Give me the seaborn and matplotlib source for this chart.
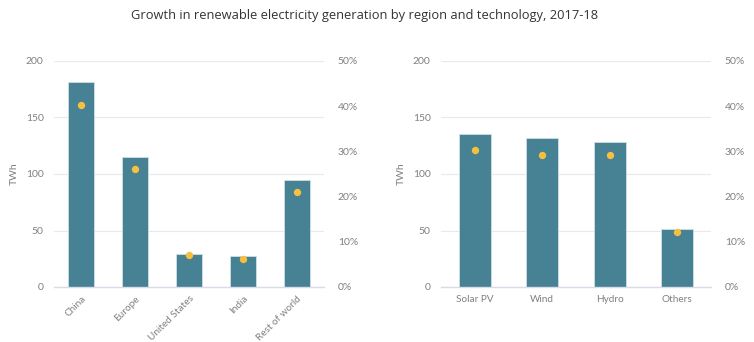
import matplotlib
matplotlib.use("Agg")
import matplotlib.pyplot as plt
import seaborn as sns
import pandas as pd
from matplotlib.ticker import FuncFormatter

sns.set_theme(style="white")
plt.rcParams['font.family'] = ['Lato', 'DejaVu Sans']

regions = ["China", "Europe", "United States", "India", "Rest of world"]
region_twh = [181, 114.8, 29.5, 27.4, 94.4]
region_pct = [40.2, 26.1, 7.1, 6.1, 21.1]

techs = ["Solar PV", "Wind", "Hydro", "Others"]
tech_twh = [135.7, 131.9, 128.6, 51.6]
tech_pct = [30.2, 29.1, 29.1, 12.1]

BAR = "#468294"
DOT = "#f6bf3f"
TXT = "#808080"
GRID = "#e8e8ee"

fig = plt.figure(figsize=(7.54, 3.42), dpi=100)
fig.text(0.484, 0.955, "Growth in renewable electricity generation by region and technology, 2017-18",
         ha="center", va="center", fontsize=9.3, color="#333333", family=['Open Sans', 'DejaVu Sans'])

def panel(rect, cats, twh, pct, rotate, width):
    ax = fig.add_axes(rect)
    df = pd.DataFrame({"cat": cats, "twh": twh, "pct": pct})
    sns.barplot(data=df, x="cat", y="twh", color=BAR, width=width, ax=ax,
                saturation=1, edgecolor="#d0e0e6", linewidth=0.6)
    ax.set_ylim(0, 200)
    ax.set_xlim(-0.5, len(cats) - 0.5)
    ax.set_yticks([0, 50, 100, 150, 200])
    ax.grid(axis="y", color=GRID, linewidth=0.8)
    ax.set_axisbelow(True)
    for s in ["top", "right", "left"]:
        ax.spines[s].set_visible(False)
    ax.spines["bottom"].set_color("#d8dce6")
    ax.spines["bottom"].set_linewidth(1.0)
    ax.set_xlabel("")
    ax.set_ylabel("TWh", color=TXT, fontsize=7.5, labelpad=5)
    ax.tick_params(axis="y", colors=TXT, labelsize=7.5, length=0, pad=7.5)
    ax.tick_params(axis="x", colors=TXT, labelsize=7.2, length=0)
    if rotate:
        for lab in ax.get_xticklabels():
            lab.set_rotation(45)
            lab.set_ha("right")
            lab.set_rotation_mode("anchor")
        ax.tick_params(axis="x", pad=5)
    else:
        ax.tick_params(axis="x", pad=6)
    ax2 = ax.twinx()
    sns.scatterplot(data=df, x="cat", y="pct", color=DOT, s=28, linewidth=0, ax=ax2, zorder=5)
    ax2.set_ylim(0, 50)
    ax2.set_yticks([0, 10, 20, 30, 40, 50])
    ax2.yaxis.set_major_formatter(FuncFormatter(lambda v, p: f"{int(v)}%"))
    ax2.set_ylabel("")
    ax2.tick_params(axis="y", colors=TXT, labelsize=7.5, length=0, pad=10)
    for s in ax2.spines.values():
        s.set_visible(False)
    ax2.set_xlim(-0.5, len(cats) - 0.5)
    return ax

panel([54/754, 1-287/342, 270/754, 226/342], regions, region_twh, region_pct, True, 0.48)
panel([441/754, 1-287/342, 270/754, 226/342], techs, tech_twh, tech_pct, False, 0.475)

fig.savefig("out.png", dpi=100, facecolor="white")
